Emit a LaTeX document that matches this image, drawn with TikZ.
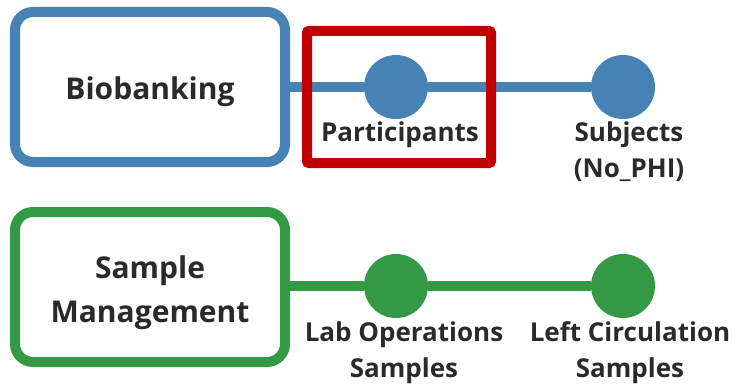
\documentclass[tikz,border=0pt]{standalone}
\usepackage{fontspec}
\setmainfont{Open Sans}
\usetikzlibrary{positioning}
\definecolor{bioblue}{HTML}{4682B4}
\definecolor{smgreen}{HTML}{339944}
\definecolor{selred}{HTML}{C00000}
\definecolor{txt}{HTML}{2A2A2A}
\tikzset{
    groupbox/.style={draw, line width=10pt, rounded corners=18pt, fill=white,
        minimum width=270pt, minimum height=150pt},
    grouptext/.style={inner sep=0pt, align=center, text=txt,
        font=\fontsize{30}{44}\selectfont\bfseries},
    dot/.style={circle, fill, minimum size=64pt, inner sep=0pt},
    dotlabel/.style={inner sep=0pt, align=center, text=txt,
        font=\fontsize{26}{36}\selectfont\bfseries},
    track/.style={line width=10pt}
}
\begin{document}
\begin{tikzpicture}[x=1pt,y=-1pt]
    \useasboundingbox (0,0) rectangle (738,385);
    % top row
    \node[groupbox, draw=bioblue] (bio) at (150,87) {};
    \node[grouptext] (biot) at ([yshift=-5pt]bio.center) {Biobanking};
    \node[dot, bioblue] (part) at (396,87) {};
    \node[dot, bioblue] (subj) at (623,87) {};
    \draw[track, bioblue] (bio) -- (part) -- (subj);
    \node[dotlabel, below=2pt of part, xshift=4pt] (partl) {Participants};
    \node[dotlabel, below=2pt of subj, xshift=6pt] (subjl) {Subjects\\(No\_PHI)};
    \node[draw=selred, line width=10pt, rounded corners=2pt,
        minimum width=184pt, minimum height=132pt] (sel) at (399,97) {};
    % bottom row
    \node[groupbox, draw=smgreen] (sm) at (150,287) {};
    \node[grouptext] (smt) at ([yshift=-6pt]sm.center) {Sample\\Management};
    \node[dot, smgreen] (lab) at (396,286) {};
    \node[dot, smgreen] (left) at (623,286) {};
    \draw[track, smgreen] (sm.east |- lab) -- (lab) -- (left);
    \node[dotlabel, below=3pt of lab, xshift=8pt] (labl) {Lab Operations\\Samples};
    \node[dotlabel, below=3pt of left, xshift=7pt] (leftl) {Left Circulation\\Samples};
\end{tikzpicture}
\end{document}
